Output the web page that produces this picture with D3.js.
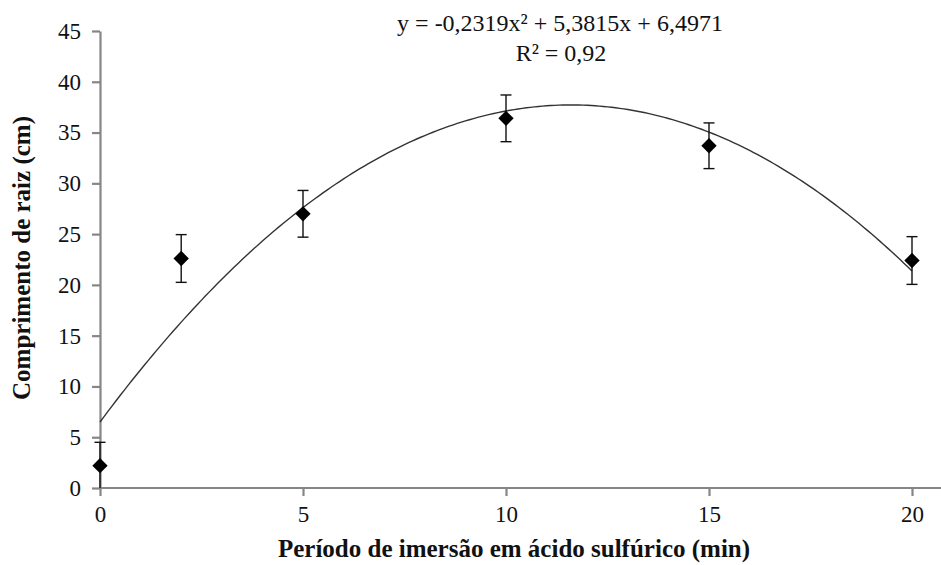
<!DOCTYPE html>
<html>
<head>
<meta charset="utf-8">
<script src="https://cdn.jsdelivr.net/npm/d3@7"></script>
<style>
html,body{margin:0;padding:0;background:#fff;}
svg{display:block;}
</style>
</head>
<body>
<svg id="chart" width="941" height="565"></svg>
<script>
const times = [0, 2, 5, 10, 15, 20];
const lengths = [2.2, 22.6, 27.0, 36.4, 33.7, 22.4];
const errors = [2.3, 2.35, 2.3, 2.3, 2.25, 2.35];
const xTicks = [0, 5, 10, 15, 20];
const yTicks = [0, 5, 10, 15, 20, 25, 30, 35, 40, 45];
const coeffs = [-0.2319, 5.3815, 6.4971];
const eqLabel = "y = -0,2319x² + 5,3815x + 6,4971";
const r2Label = "R² = 0,92";
const xTitle = "Período de imersão em ácido sulfúrico (min)";
const yTitle = "Comprimento de raiz (cm)";

const svg = d3.select("#chart");
const FONT = "Liberation Serif";
const axisColor = "#868686";

const x = d3.scaleLinear().domain([0, 20]).range([100, 912]);
const y = d3.scaleLinear().domain([0, 45]).range([488, 31]);
const xEnd = 941;

// axes
const yAxis = svg.append("g").attr("transform", "translate(100,0)")
  .call(d3.axisLeft(y).tickValues(yTicks).tickSize(8).tickPadding(11).tickSizeOuter(0));
const xAxis = svg.append("g").attr("transform", "translate(0,488)")
  .call(d3.axisBottom(x).tickValues(xTicks).tickSize(8).tickPadding(10).tickSizeOuter(0));
xAxis.select(".domain").attr("d", `M100,0H${xEnd}`);
[xAxis, yAxis].forEach(g => {
  g.attr("font-family", FONT).attr("font-size", 23);
  g.selectAll(".domain, .tick line").attr("stroke", axisColor).attr("stroke-width", 2.2);
  g.selectAll("text").attr("font-family", FONT).attr("font-size", 23).attr("fill", "#111");
});

// trendline
const curve = d3.range(0, 20.001, 0.1).map(t => [t, coeffs[0]*t*t + coeffs[1]*t + coeffs[2]]);
svg.append("path")
  .datum(curve)
  .attr("fill", "none")
  .attr("stroke", "#333")
  .attr("stroke-width", 1.4)
  .attr("d", d3.line().x(d => x(d[0])).y(d => y(d[1])));

// error bars
const pts = times.map((t, i) => ({t, v: lengths[i], e: errors[i]}));
const eb = svg.append("g").attr("stroke", "#111").attr("stroke-width", 1.4);
pts.forEach(d => {
  const lo = Math.max(0, d.v - d.e), hi = d.v + d.e;
  eb.append("line").attr("x1", x(d.t)).attr("x2", x(d.t)).attr("y1", y(lo)).attr("y2", y(hi));
  eb.append("line").attr("x1", x(d.t) - 5.5).attr("x2", x(d.t) + 5.5).attr("y1", y(hi)).attr("y2", y(hi));
  if (d.v - d.e > 0)
    eb.append("line").attr("x1", x(d.t) - 5.5).attr("x2", x(d.t) + 5.5).attr("y1", y(lo)).attr("y2", y(lo));
});

// markers
svg.append("g").selectAll("path").data(pts).join("path")
  .attr("transform", d => `translate(${x(d.t)},${y(d.v)})`)
  .attr("d", d3.symbol().type(d3.symbolDiamond2).size(150))
  .attr("fill", "#000");

// equation
svg.append("text").attr("x", 560).attr("y", 31).attr("text-anchor", "middle")
  .attr("font-family", FONT).attr("font-size", 24).attr("fill", "#111").text(eqLabel);
svg.append("text").attr("x", 561).attr("y", 61).attr("text-anchor", "middle")
  .attr("font-family", FONT).attr("font-size", 24).attr("fill", "#111").text(r2Label);

// titles
svg.append("text").attr("x", 514).attr("y", 557).attr("text-anchor", "middle")
  .attr("font-family", FONT).attr("font-size", 25).attr("font-weight", "bold").attr("fill", "#111").text(xTitle);
svg.append("text").attr("transform", "translate(30,258) rotate(-90)").attr("text-anchor", "middle")
  .attr("font-family", FONT).attr("font-size", 25).attr("font-weight", "bold").attr("fill", "#111").text(yTitle);
</script>
</body>
</html>
